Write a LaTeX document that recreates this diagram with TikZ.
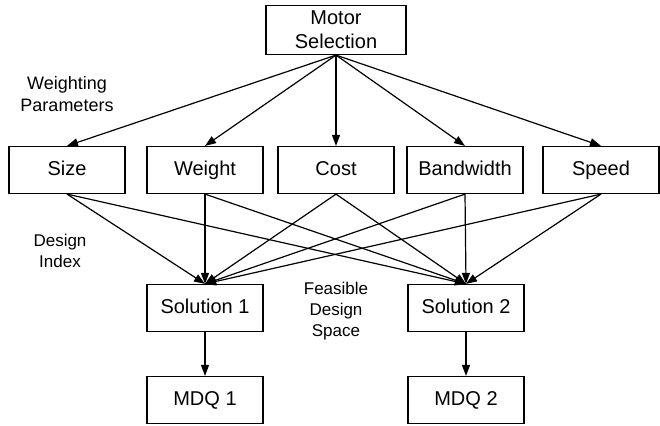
\documentclass[tikz,border=0pt]{standalone}
\usepackage{fontspec}
\setmainfont{Liberation Sans}
\usetikzlibrary{arrows.meta}
\tikzset{
  box/.style={draw=black, line width=1.2pt, minimum width=116pt, minimum height=47pt, inner sep=0pt, font=\fontsize{20}{24}\selectfont, align=center, text height=14.5pt, text depth=4pt},
  bigbox/.style={box, minimum width=140pt, minimum height=49pt, text height=, text depth=},
  link/.style={draw=black, line width=1.2pt, -{Triangle[length=11pt,width=8pt]}},
  note/.style={font=\fontsize{17}{21}\selectfont, align=center},
}

\begin{document}
\begin{tikzpicture}[x=1pt,y=-1pt]
  \useasboundingbox[fill=white] (0,0) rectangle (660,425);

  \node[bigbox] (motor) at (336,30) {Motor\\Selection};

  \node[box] (size)      at (67,170)  {Size};
  \node[box] (weight)    at (205,170) {Weight};
  \node[box] (cost)      at (336,170) {Cost};
  \node[box] (bandwidth) at (465,170) {Bandwidth};
  \node[box] (speed)     at (601,170) {Speed};

  \node[box] (sol1) at (205,308) {Solution 1};
  \node[box] (sol2) at (466,308) {Solution 2};
  \node[box] (mdq1) at (205,400) {MDQ 1};
  \node[box] (mdq2) at (466,400) {MDQ 2};

  \node[note, font=\fontsize{18}{22}\selectfont] (wpar) at (67,94) {Weighting\\Parameters};
  \node[note] (dind) at (60,251)  {Design\\Index};
  \node[note] (fds)  at (336,311) {Feasible\\Design\\Space};

  \foreach \p in {size,weight,cost,bandwidth,speed} {
    \draw[link] (motor.south) -- (\p.north);
    \draw[link] (\p.south) -- (sol1.north);
    \draw[link] (\p.south) -- (sol2.north);
  }
  \draw[link] (sol1) -- (mdq1);
  \draw[link] (sol2) -- (mdq2);
\end{tikzpicture}
\end{document}
